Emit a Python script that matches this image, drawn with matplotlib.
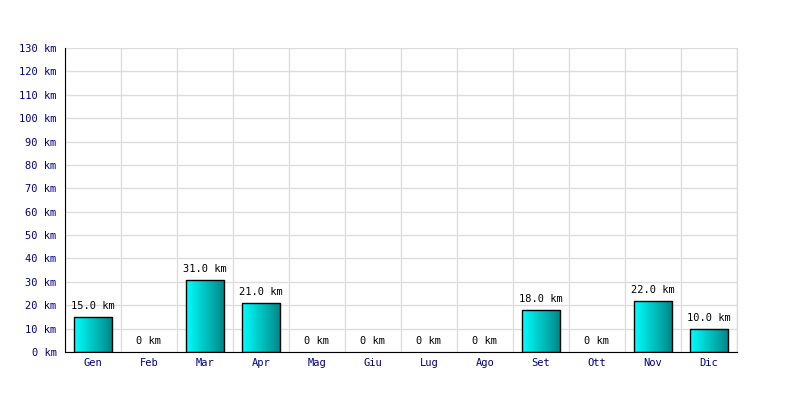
import numpy as np
import matplotlib
matplotlib.use("Agg")
import matplotlib.pyplot as plt
from matplotlib.colors import LinearSegmentedColormap

months = ['Gen', 'Feb', 'Mar', 'Apr', 'Mag', 'Giu', 'Lug', 'Ago', 'Set', 'Ott', 'Nov', 'Dic']
km = [15.0, 0, 31.0, 21.0, 0, 0, 0, 0, 18.0, 0, 22.0, 10.0]
yticks = list(range(0, 131, 10))

plt.rcParams['font.family'] = ['DejaVu Sans Mono']

fig = plt.figure(figsize=(8, 4), dpi=100)
ax = fig.add_axes([65 / 800, 48 / 400, 672 / 800, 304 / 400])

x = np.arange(len(months))
bars = ax.bar(x, km, width=0.68, color='none', edgecolor='black', linewidth=1, zorder=3)

# horizontal gradient fill, cyan to teal
cmap = LinearSegmentedColormap.from_list('teal', ['#00ffff', '#008585'])
grad = np.linspace(0, 1, 256).reshape(1, -1)
for b, v in zip(bars, km):
    if v <= 0:
        b.set_visible(False)
        continue
    x0, y0 = b.get_x(), b.get_y()
    im = ax.imshow(grad, cmap=cmap, aspect='auto', zorder=2,
                   extent=(x0, x0 + b.get_width(), y0, y0 + b.get_height()))
    im.set_clip_path(b)

for xi, v in zip(x, km):
    label = '0 km' if v == 0 else f'{v:.1f} km'
    ax.annotate(label, (xi, v), xytext=(0, 4), textcoords='offset points',
                ha='center', va='bottom', fontsize=7.5, color='black')

ax.set_xlim(-0.5, len(months) - 0.5)
ax.set_ylim(0, 130)
ax.set_yticks(yticks)
ax.set_yticklabels([f'{t} km' for t in yticks])
ax.set_xticks(x)
ax.set_xticklabels(months)
ax.set_xticks(np.arange(-0.5, len(months)), minor=True)
ax.tick_params(axis='both', which='both', length=0, labelsize=7.5, labelcolor='#000080')
ax.tick_params(axis='x', pad=4)
ax.tick_params(axis='y', pad=6)

ax.grid(True, which='minor', axis='x', color='#dddddd', linewidth=1, zorder=0)
ax.grid(True, which='major', axis='y', color='#dddddd', linewidth=1, zorder=0)
ax.axvline(len(months) - 0.5, color='#dddddd', linewidth=1, zorder=0, clip_on=False)
ax.set_axisbelow(True)
for s in ['top', 'right']:
    ax.spines[s].set_visible(False)
ax.spines['left'].set_color('black')
ax.spines['bottom'].set_color('black')

fig.savefig('out.png', dpi=100)
